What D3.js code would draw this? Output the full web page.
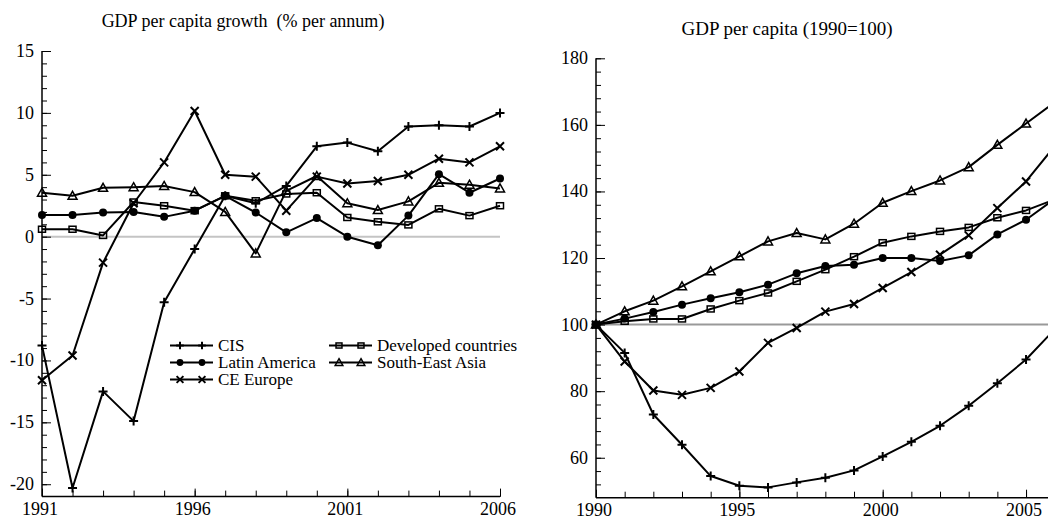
<!DOCTYPE html>
<html><head><meta charset="utf-8">
<script src="https://cdn.jsdelivr.net/npm/d3@7"></script>
<style>
html,body{margin:0;padding:0;background:#fff;overflow:hidden}
</style></head>
<body><svg id="c" width="1048" height="520" font-family="'Liberation Serif', 'DejaVu Serif', serif"></svg>
<script>
// ---------- Data ----------
const growthYears = d3.range(1991, 2007);
const growthCIS       = [-8.8,-20.3,-12.5,-14.9,-5.3,-1.0,3.3,2.7,4.1,7.3,7.6,6.9,8.9,9.0,8.9,10.0];
const growthLatAm     = [1.75,1.75,1.95,2.0,1.6,2.1,3.3,1.95,0.35,1.5,0.0,-0.7,1.7,5.05,3.55,4.7];
const growthCEEurope  = [-11.6,-9.6,-2.1,2.7,6.0,10.15,5.0,4.85,2.1,4.85,4.3,4.5,5.0,6.3,6.0,7.3];
const growthDeveloped = [0.6,0.6,0.1,2.8,2.5,2.1,3.3,2.9,3.45,3.55,1.55,1.2,0.95,2.25,1.7,2.5];
const growthSEAsia    = [3.55,3.3,3.95,4.0,4.1,3.6,2.0,-1.35,3.7,4.9,2.7,2.15,2.85,4.35,4.2,3.9];

const indexYears = d3.range(1990, 2007);
const indexCIS       = [100,91.5,73.0,63.9,54.5,51.6,51.1,52.6,54.0,56.2,60.4,64.8,69.6,75.6,82.4,89.5,98.6];
const indexLatAm     = [100,101.8,103.8,106.0,107.9,109.7,112.0,115.4,117.6,118.0,120.0,120.0,119.1,120.8,127.1,131.5,137.8];
const indexCEEurope  = [100,88.9,80.2,78.9,81.0,85.9,94.5,99.0,103.9,106.2,111.0,115.8,121.0,126.8,135.0,143.0,153.6];
const indexDeveloped = [100,101.0,101.7,101.7,104.7,107.2,109.5,113.0,116.5,120.4,124.6,126.5,128.0,129.2,132.1,134.3,137.6];
const indexSEAsia    = [100,104.0,107.2,111.5,116.0,120.5,125.0,127.5,125.6,130.3,136.6,140.1,143.3,147.3,154.0,160.4,166.8];

const seriesNames = ["CIS","Latin America","CE Europe","Developed countries","South-East Asia"];
const seriesMarkers = ["plus","circle","cross","square","triangle"];

const leftTicks = [15,10,5,0,-5,-10,-15,-20];
const leftXTicks = [1991,1996,2001,2006];
const rightTicks = [180,160,140,120,100,80,60];
const rightXTicks = [1990,1995,2000,2005];

const FONT = "'Liberation Serif', 'DejaVu Serif', serif";
const svg = d3.select("#c");

function marker(g, type, x, y, s) {
  s = s || 1;
  if (type === "plus") {
    g.append("path").attr("d", `M${x-4.5*s},${y}H${x+4.5*s}M${x},${y-4.5*s}V${y+4.5*s}`)
      .attr("stroke","#000").attr("stroke-width",2).attr("fill","none");
  } else if (type === "cross") {
    g.append("path").attr("d", `M${x-4*s},${y-4*s}L${x+4*s},${y+4*s}M${x-4*s},${y+4*s}L${x+4*s},${y-4*s}`)
      .attr("stroke","#000").attr("stroke-width",2).attr("fill","none");
  } else if (type === "circle") {
    g.append("circle").attr("cx",x).attr("cy",y).attr("r",4*s).attr("fill","#000");
  } else if (type === "square") {
    g.append("rect").attr("x",x-3.5*s).attr("y",y-3*s).attr("width",7*s).attr("height",6*s)
      .attr("stroke","#000").attr("stroke-width",1.5).attr("fill","none");
  } else if (type === "triangle") {
    g.append("path").attr("d", `M${x},${y-4.5*s}L${x+4.5*s},${y+3.5*s}L${x-4.5*s},${y+3.5*s}Z`)
      .attr("stroke","#000").attr("stroke-width",1.5).attr("fill","none");
  }
}

function drawPanel(o) {
  const g = svg.append("g");
  const x = d3.scaleLinear().domain(o.xDomain).range(o.xRange);
  const y = d3.scaleLinear().domain(o.yDomain).range(o.yRange);
  g.append("line").attr("x1", o.xRange[0]).attr("x2", Math.min(o.xRange[1],1048))
    .attr("y1", y(o.refVal)).attr("y2", y(o.refVal))
    .attr("stroke", o.refColor).attr("stroke-width", 2);
  const yAxisMinor = d3.axisRight(y).tickValues(o.yMinor).tickSize(5).tickFormat("");
  const ya = g.append("g").attr("transform",`translate(${o.xRange[0]},0)`).call(yAxisMinor);
  ya.select(".domain").remove();
  ya.selectAll("line").attr("stroke","#000").attr("stroke-width",1);
  const yAxisMajor = d3.axisRight(y).tickValues(o.yTicks).tickSize(9).tickFormat("");
  const yb = g.append("g").attr("transform",`translate(${o.xRange[0]},0)`).call(yAxisMajor);
  yb.select(".domain").remove();
  yb.selectAll("line").attr("stroke","#000").attr("stroke-width",1);
  g.selectAll(null).data(o.yTicks).enter().append("text")
    .attr("x", o.xRange[0]-8).attr("y", d => y(d)+6).attr("font-family",FONT)
    .attr("text-anchor","end").attr("font-size",18).text(d => d);
  const xAxisMinor = d3.axisTop(x).tickValues(o.xMinor).tickSize(6).tickFormat("");
  const xa = g.append("g").attr("transform",`translate(0,${o.yRange[0]})`).call(xAxisMinor);
  xa.select(".domain").remove();
  xa.selectAll("line").attr("stroke","#000").attr("stroke-width",1);
  const xAxisMajor = d3.axisTop(x).tickValues(o.xTicks).tickSize(8).tickFormat("");
  const xb = g.append("g").attr("transform",`translate(0,${o.yRange[0]})`).call(xAxisMajor);
  xb.select(".domain").remove();
  xb.selectAll("line").attr("stroke","#000").attr("stroke-width",1);
  g.selectAll(null).data(o.xTicks).enter().append("text")
    .attr("x", d => x(d)-2).attr("y", o.yRange[0]+18).attr("font-family",FONT)
    .attr("text-anchor","middle").attr("font-size",18).text(d => d);
  g.append("line").attr("x1",o.xRange[0]).attr("x2",o.xRange[0])
    .attr("y1",o.yRange[1]).attr("y2",o.yRange[0]).attr("stroke","#000").attr("stroke-width",1.5);
  g.append("line").attr("x1",o.xRange[0]).attr("x2",Math.min(o.xRange[1],1048))
    .attr("y1",o.yRange[0]).attr("y2",o.yRange[0]).attr("stroke","#000").attr("stroke-width",1.5);
  g.append("text").attr("x", o.titleX).attr("y", o.titleY).attr("text-anchor","middle")
    .attr("font-family",FONT).attr("font-size",o.titleSize)
    .attr("xml:space","preserve").style("white-space","pre").text(o.title);
  const line = d3.line().x(d => x(d[0])).y(d => y(d[1]));
  o.series.forEach((vals, i) => {
    const pts = o.years.map((yr, j) => [yr, vals[j]]);
    g.append("path").attr("d", line(pts)).attr("fill","none")
      .attr("stroke","#000").attr("stroke-width",2).attr("stroke-linejoin","round");
    pts.forEach(p => marker(g, seriesMarkers[i], x(p[0]), y(p[1])));
  });
  return {x, y, g};
}

drawPanel({
  xDomain:[1991,2006], xRange:[42,500],
  yDomain:[-21,15], yRange:[496.6,51],
  refVal:0, refColor:"#c4c4c4",
  yTicks:leftTicks, yMinor:d3.range(-20,16,1),
  xTicks:leftXTicks, xMinor:growthYears,
  title:"GDP per capita growth  (% per annum)", titleX:243, titleY:27, titleSize:18,
  years:growthYears,
  series:[growthCIS,growthLatAm,growthCEEurope,growthDeveloped,growthSEAsia]
});

drawPanel({
  xDomain:[1990,2006], xRange:[596,1054.7],
  yDomain:[48,180], yRange:[497.7,58.3],
  refVal:100, refColor:"#999",
  yTicks:rightTicks, yMinor:d3.range(52,181,4),
  xTicks:rightXTicks, xMinor:indexYears,
  title:"GDP per capita (1990=100)", titleX:787, titleY:35, titleSize:19,
  years:indexYears,
  series:[indexCIS,indexLatAm,indexCEEurope,indexDeveloped,indexSEAsia]
});

const leg = svg.append("g");
const legPos = [[170,345.5],[170,362.5],[170,379.5],[329,345.5],[329,362.5]];
seriesNames.forEach((n,i) => {
  const [lx, ly] = legPos[i];
  leg.append("line").attr("x1",lx).attr("x2",lx+43).attr("y1",ly).attr("y2",ly)
    .attr("stroke","#000").attr("stroke-width",2);
  marker(leg, seriesMarkers[i], lx+10, ly, 0.85);
  marker(leg, seriesMarkers[i], lx+32, ly, 0.85);
  leg.append("text").attr("x", lx+48).attr("y", ly+5.5).attr("font-family",FONT)
    .attr("font-size",17).text(n);
});
</script></body></html>
